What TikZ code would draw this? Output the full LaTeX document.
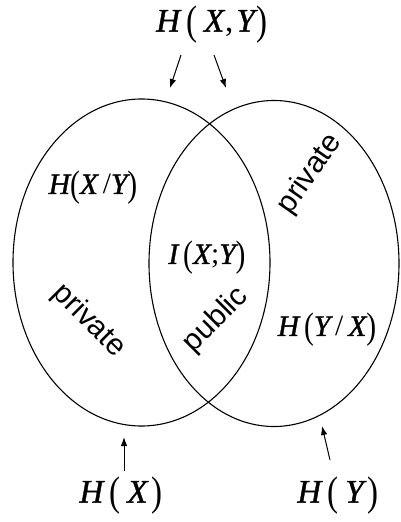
\documentclass[tikz,border=0pt]{standalone}
\usepackage{fontspec}
\usepackage{graphicx}
\setmainfont{Liberation Serif}
\newfontfamily\arialfam{Liberation Sans}
\newfontface\semiit[FakeBold=1.2]{Liberation Serif Italic}
\usetikzlibrary{arrows.meta,shapes.geometric}
\newcommand\tallp[1]{\raisebox{-0.1em}{\scalebox{1}[1.25]{#1}}}
\newcommand\lp{\tallp{(}}
\newcommand\rp{\tallp{)}}
\newcommand\vv[1]{{\semiit #1}}
\begin{document}
\begin{tikzpicture}[x=1pt,y=-1pt,
  big/.style={font=\fontsize{33}{36}\selectfont, inner sep=0pt},
  mid/.style={font=\fontsize{29.5}{32}\selectfont, inner sep=0pt},
  word/.style={font=\arialfam\fontsize{30}{32}\selectfont, inner sep=0pt},
  venn/.style={draw, ellipse, line width=1.1pt, inner sep=0pt},
  arr/.style={-{Latex[length=9pt,width=6.5pt]}, line width=1pt}]
\useasboundingbox (0,0) rectangle (400,522);
\node[venn, minimum width=257pt, minimum height=327pt] (L) at (141.5,262.5) {};
\node[venn, minimum width=250pt, minimum height=326pt] (R) at (274,263.5) {};

\node[big] (hxy) at (212,25) {\vv{H}\kern6pt\lp\kern7pt\vv{X}\kern1pt,\kern3pt\vv{Y}\kern2pt\rp};
\node[big] (hx) at (121,496) {\vv{H}\kern6pt\lp\kern7pt\vv{X}\kern4pt\rp};
\node[big] (hy) at (338,496) {\vv{H}\kern6pt\lp\kern7pt\vv{Y}\kern4pt\rp};
\node[mid] (hxgy) at (93,188) {\vv{H}\lp\vv{X}\,/\vv{Y}\rp};
\node[mid] (ixy) at (207,258) {\vv{I}\,\lp\vv{X};\vv{Y}\rp};
\node[mid] (hygx) at (327,330) {\vv{H}\,\lp\vv{Y}\,/\,\vv{X}\rp};

\node[word, rotate=-45] (privL) at (89,321) {private};
\node[word, rotate=45] (pub) at (216,320) {public};
\node[word, rotate=55] (privR) at (310,174) {private};

\coordinate (a1s) at (181,55);
\coordinate (a1e) at (170,88);
\coordinate (a2s) at (214,55);
\coordinate (a2e) at (226,88);
\coordinate (a3s) at (124,471);
\coordinate (a3e) at (124,437);
\coordinate (a4s) at (330,460);
\coordinate (a4e) at (322,426);
\draw[arr] (a1s) -- (a1e);
\draw[arr] (a2s) -- (a2e);
\draw[arr] (a3s) -- (a3e);
\draw[arr] (a4s) -- (a4e);
\end{tikzpicture}
\end{document}
